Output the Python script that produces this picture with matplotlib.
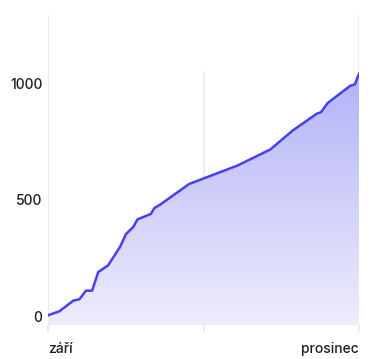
import numpy as np
import matplotlib
matplotlib.use("Agg")
import matplotlib.pyplot as plt
from matplotlib.colors import LinearSegmentedColormap
import matplotlib.transforms as mtransforms

# data: day index since 1 Sept, cumulative value
days = [0, 3.3, 7.4, 9.2, 11.1, 12.9, 14.7, 17.6, 21.1, 22.8, 25.0, 26.2, 30.1,
        31.1, 32.8, 41.3, 55.4, 65.0, 71.6, 78.6, 79.9, 81.8, 83.5, 88.4, 89.8, 91]
values = [3, 20, 66, 72, 109, 109, 189, 218, 298, 352, 384, 416, 439,
          464, 479, 568, 647, 716, 798, 870, 877, 916, 935, 990, 997, 1042]
x_ticks = [0, 45.5, 91]
x_labels = ["září", "", "prosinec"]
y_ticks = [0, 500, 1000]
y_labels = ["0", "500", "1000"]

plt.rcParams['font.family'] = ['Inter', 'DejaVu Sans']
plt.rcParams['font.weight'] = 'medium'

fig = plt.figure(figsize=(3.75, 3.59), dpi=100)
W, H = 375, 359
left, right, top, bottom = 48, 359, 15, 325
ax = fig.add_axes([left / W, (H - bottom) / H, (right - left) / W, (bottom - top) / H])

ymin, ymax = -38.7, 1295
ax.set_xlim(0, 91)
ax.set_ylim(ymin, ymax)

grid_c = "#e9e9ee"
# vertical gridlines
ax.axvline(0, color=grid_c, lw=1.2, zorder=0)
ax.axvline(91, color=grid_c, lw=1.2, zorder=0)
ax.plot([45.5, 45.5], [ymin, 1050], color=grid_c, lw=1.2, zorder=0)
ax.axhline(ymin, color=grid_c, lw=1.5, zorder=0)

# gradient fill
cmap = LinearSegmentedColormap.from_list("g", ["#eeecfc", "#b3b3f8"])
grad = np.linspace(0, 1, 256).reshape(-1, 1)
vmax = max(values)
im = ax.imshow(grad, cmap=cmap, aspect="auto", origin="lower",
               extent=[0, 91, ymin, vmax], zorder=1)
poly = ax.fill_between(days, values, ymin, color="none", lw=0)
path = poly.get_paths()[0]
im.set_clip_path(path, transform=ax.transData)

ax.plot(days, values, color="#4540f0", lw=1.8, zorder=3, solid_joinstyle="round")

for s in ax.spines.values():
    s.set_visible(False)

ax.set_yticks(y_ticks)
ax.set_yticklabels(y_labels, fontweight="medium")
ax.tick_params(axis="y", length=0, pad=4, labelsize=10, labelcolor="#1e1e1e")
ax.set_xticks(x_ticks)
ax.set_xticklabels([])
ax.tick_params(axis="x", length=5, width=1.2, color=grid_c, direction="out")

trans = mtransforms.blended_transform_factory(ax.transData, fig.transFigure)
ax.text(0, (H - 353) / H, x_labels[0], transform=trans, ha="left", va="baseline",
        fontsize=10, color="#1e1e1e", fontweight="medium")
ax.text(91, (H - 353) / H, x_labels[2], transform=trans, ha="right", va="baseline",
        fontsize=10, color="#1e1e1e", fontweight="medium")

fig.savefig("out.png", dpi=100)
